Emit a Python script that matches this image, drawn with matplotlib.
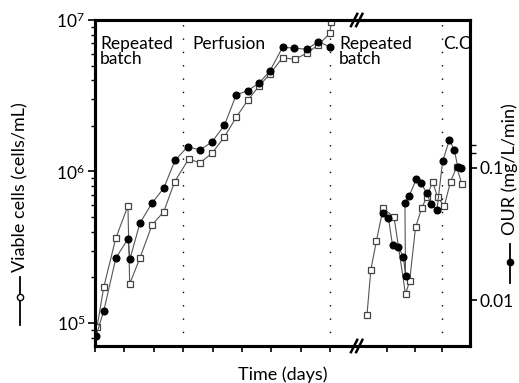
import numpy as np
import matplotlib
matplotlib.use('Agg')
import matplotlib.pyplot as plt
from matplotlib.lines import Line2D
from matplotlib.ticker import FixedLocator, NullFormatter, LogLocator
import matplotlib.transforms as mtransforms

plt.rcParams['font.family'] = ['Lato', 'DejaVu Sans']
plt.rcParams['mathtext.default'] = 'regular'

# viable cells (open squares, left axis), repeated batch + perfusion part
days_cells_a = [0.07, 0.30, 0.71, 1.12, 1.18, 1.53, 1.94, 2.34, 2.71, 3.19, 3.57, 3.98,
                4.39, 4.81, 5.20, 5.58, 5.95, 6.38, 6.80, 7.21, 7.59, 7.99, 8.03]
cells_a = [9.4e4, 1.73e5, 3.64e5, 5.92e5, 1.81e5, 2.69e5, 4.44e5, 5.43e5, 8.57e5, 1.21e6,
           1.14e6, 1.32e6, 1.68e6, 2.29e6, 2.96e6, 3.67e6, 4.40e6, 5.65e6, 5.49e6, 6.06e6,
           6.84e6, 8.16e6, 9.7e6]
# viable cells after the axis break
days_cells_b = [9.25, 9.38, 9.57, 9.80, 10.17, 10.56, 10.70, 10.90, 11.11, 11.28, 11.48,
                11.65, 11.88, 12.09, 12.30, 12.47]
cells_b = [1.13e5, 2.24e5, 3.48e5, 5.72e5, 4.99e5, 1.55e5, 1.89e5, 4.27e5, 5.74e5, 6.76e5,
           8.57e5, 6.76e5, 5.92e5, 8.57e5, 1.07e6, 8.33e5]

# OUR (filled circles, right axis)
days_our_a = [0.03, 0.30, 0.71, 1.12, 1.19, 1.53, 1.94, 2.34, 2.72, 3.15, 3.57, 3.97, 4.40,
              4.80, 5.20, 5.58, 5.95, 6.38, 6.77, 7.20, 7.60, 7.98]
our_a = [0.0053, 0.0083, 0.0208, 0.0290, 0.0205, 0.0383, 0.0543, 0.0705, 0.114, 0.145, 0.137,
         0.157, 0.210, 0.357, 0.386, 0.439, 0.543, 0.822, 0.807, 0.793, 0.906, 0.826]
days_our_b = [9.81, 9.98, 10.12, 10.31, 10.49, 10.56, 10.54, 10.69, 10.93, 11.10, 11.28,
              11.43, 11.63, 11.82, 12.05, 12.22, 12.34, 12.45]
our_b = [0.0454, 0.0416, 0.0259, 0.0252, 0.0213, 0.0152, 0.0546, 0.0619, 0.0826, 0.0766,
         0.0643, 0.0534, 0.0483, 0.112, 0.163, 0.137, 0.101, 0.0995]

phase_days = [3.0, 8.0, 11.8]
phase_labels = ['Repeated\nbatch', 'Perfusion', 'Repeated\nbatch', 'C.C']
phase_label_x = [0.17, 3.3, 8.3, 11.84]
xticks_days = [0, 1, 2, 3, 4, 5, 6, 7, 8, 9.93, 10.88, 11.8]
break_day = 8.9

fig = plt.figure(figsize=(5.19, 3.83), dpi=100)
ax = fig.add_axes([0.183, 0.0966, 0.723, 0.8512])
ax2 = ax.twinx()

line_kw = dict(color='#555555', lw=0.8)
for d, v in [(days_cells_a, cells_a), (days_cells_b, cells_b)]:
    ax.plot(d, v, marker='s', ms=4.8, mfc='white', mec='#444444', mew=0.9, zorder=3, **line_kw)
for d, v in [(days_our_a, our_a), (days_our_b, our_b)]:
    ax2.plot(d, v, marker='o', ms=4.8, mfc='black', mec='black', zorder=4, **line_kw)

ax.set_yscale('log')
ax2.set_yscale('log')
ax.set_ylim(7.05e4, 1e7)
ax2.set_ylim(0.00449, 1.32)
ax.set_xlim(0, 12.76)

for d in phase_days:
    ax.axvline(d, color='black', lw=1.0, ls=(0, (1, 8.6)), zorder=1)

trans = mtransforms.blended_transform_factory(ax.transData, ax.transAxes)
for xl, lab in zip(phase_label_x, phase_labels):
    ax2.text(xl, 0.952, lab, transform=trans, ha='left', va='top', fontsize=12.5,
             linespacing=0.92, zorder=6)

for a in (ax, ax2):
    for s in a.spines.values():
        s.set_linewidth(2.2)

ax.set_xticks(xticks_days)
ax.set_xticklabels([])
ax.tick_params(axis='x', direction='out', length=4, width=1.2)
ax.set_xlabel('Time (days)', fontsize=13, labelpad=7)

ax.yaxis.set_major_locator(FixedLocator([1e5, 1e6, 1e7]))
ax.yaxis.set_minor_locator(LogLocator(base=10, subs=np.arange(2, 10)))
ax.yaxis.set_minor_formatter(NullFormatter())
ax.tick_params(axis='y', which='major', direction='out', length=5, width=1.2, labelsize=12.5, pad=2)
ax.tick_params(axis='y', which='minor', direction='out', length=3, width=1.0)

ax2.yaxis.set_major_locator(FixedLocator([0.01, 0.1]))
ax2.yaxis.set_major_formatter(plt.FuncFormatter(lambda v, p: '%g' % v))
ax2.yaxis.set_minor_locator(FixedLocator([0.13, 0.15]))
ax2.yaxis.set_minor_formatter(NullFormatter())
ax2.tick_params(axis='y', which='major', direction='out', length=5, width=1.2, labelsize=12.5, pad=2)
ax2.tick_params(axis='y', which='minor', direction='out', length=4, width=1.0)

# axis break marks on the top and bottom spines
bx = ax.transData.transform((break_day, 0))[0] / fig.bbox.width
for yb in (ax.get_position().y0, ax.get_position().y1):
    for dx in (-0.005, 0.005):
        fig.add_artist(Line2D([bx + dx - 0.006, bx + dx + 0.006], [yb - 0.016, yb + 0.016],
                              color='black', lw=1.8, transform=fig.transFigure))

# axis titles with their own line symbols
fig.text(0.039, 0.512, 'Viable cells (cells/mL)', rotation=90, ha='center', va='center',
         fontsize=13)
fig.add_artist(Line2D([0.039, 0.039], [0.151, 0.277], color='black', lw=1.3,
                      transform=fig.transFigure))
fig.add_artist(Line2D([0.039], [0.225], marker='o', ms=4.5, mfc='white', mec='black',
                      mew=1.0, transform=fig.transFigure))
fig.text(0.983, 0.559, 'OUR (mg/L/min)', rotation=90, ha='center', va='center', fontsize=13)
fig.add_artist(Line2D([0.983, 0.983], [0.261, 0.363], color='black', lw=1.3,
                      transform=fig.transFigure))
fig.add_artist(Line2D([0.983], [0.316], marker='o', ms=4.5, mfc='black', mec='black',
                      transform=fig.transFigure))

fig.savefig('out.png', dpi=100)
